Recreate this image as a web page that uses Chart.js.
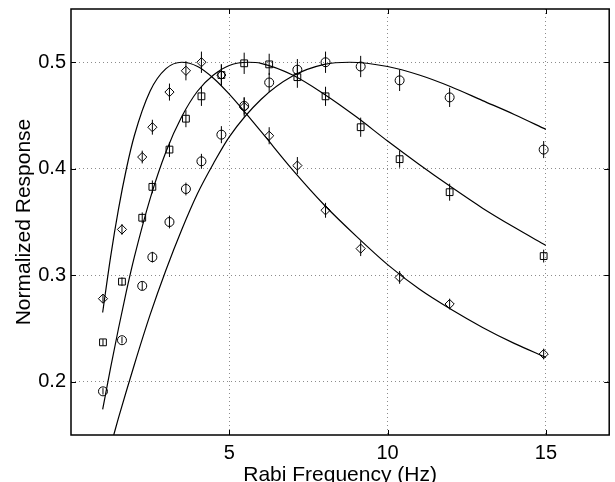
<!DOCTYPE html>
<html>
<head>
<meta charset="utf-8">
<script src="https://cdn.jsdelivr.net/npm/chart.js@4.4.1/dist/chart.umd.min.js"></script>
<style>
  html, body { margin: 0; padding: 0; background: #fff; overflow: hidden; }
  canvas { display: block; }
</style>
</head>
<body>
<canvas id="chart" width="615" height="482"></canvas>
<script>
/* ---------- DATA ---------- */
const freqs = [1.01, 1.61, 2.25, 2.57, 3.11, 3.63, 4.12, 4.75, 5.47, 6.26, 7.15, 8.04, 9.15, 10.38, 11.96, 14.93];

const diamondVals = [0.278, 0.343, 0.411, 0.439, 0.472, 0.492, 0.500, 0.488, 0.458, 0.431, 0.403, 0.361, 0.325, 0.298, 0.273, 0.226];
const diamondErr  = [0.004, 0.005, 0.006, 0.007, 0.008, 0.009, 0.010, 0.010, 0.009, 0.008, 0.008, 0.007, 0.007, 0.006, 0.005, 0.005];

const squareVals = [0.237, 0.294, 0.354, 0.383, 0.418, 0.447, 0.468, 0.488, 0.499, 0.498, 0.486, 0.468, 0.439, 0.409, 0.378, 0.318];
const squareErr  = [0.003, 0.004, 0.005, 0.006, 0.007, 0.008, 0.009, 0.010, 0.010, 0.010, 0.010, 0.009, 0.009, 0.008, 0.008, 0.006];

const circleVals = [0.191, 0.239, 0.290, 0.317, 0.350, 0.381, 0.407, 0.432, 0.459, 0.481, 0.493, 0.500, 0.496, 0.483, 0.467, 0.418];
const circleErr  = [0.003, 0.003, 0.004, 0.005, 0.006, 0.006, 0.007, 0.008, 0.008, 0.009, 0.010, 0.010, 0.010, 0.010, 0.009, 0.008];

// fitted curves
const fitAx = [1, 1.25, 1.5, 1.75, 2, 2.5, 3, 3.5, 4, 4.5, 5, 6, 7, 8, 9, 10, 11, 12, 13, 14, 15];
const fitAy = [0.265, 0.317, 0.362, 0.400, 0.431, 0.473, 0.494, 0.500, 0.496, 0.485, 0.470, 0.435, 0.399, 0.366, 0.337, 0.310, 0.287, 0.268, 0.251, 0.236, 0.223];

const fitBx = [1, 1.25, 1.5, 1.75, 2, 2.5, 3, 3.5, 4, 4.5, 5, 5.6, 6, 7, 8, 9, 10, 11, 12, 13, 14, 15];
const fitBy = [0.174, 0.213, 0.250, 0.285, 0.317, 0.372, 0.416, 0.449, 0.473, 0.488, 0.497, 0.500, 0.499, 0.488, 0.470, 0.449, 0.426, 0.404, 0.383, 0.363, 0.345, 0.328];

const fitCx = [1.35, 1.5, 2, 2.5, 3, 3.5, 4, 4.5, 5, 6, 7, 8, 8.8, 10, 11, 12, 13, 14, 15];
const fitCy = [0.150, 0.166, 0.216, 0.263, 0.305, 0.343, 0.377, 0.405, 0.430, 0.465, 0.487, 0.498, 0.500, 0.496, 0.488, 0.477, 0.464, 0.451, 0.437];

const xTicks = [5, 10, 15];
const yTicks = [0.2, 0.3, 0.4, 0.5];

/* ---------- HELPERS ---------- */
const pts = (xs, ys) => xs.map((x, i) => ({ x, y: ys[i] }));
const FONT = '"Liberation Sans", Arial, Helvetica, sans-serif';

function markers(vals, err, style, radius) {
  return {
    type: 'scatter',
    data: pts(freqs, vals),
    err,
    pointStyle: style,
    pointRadius: radius,
    pointHoverRadius: radius,
    pointBorderWidth: 1,
    borderColor: '#000',
    backgroundColor: 'rgba(0,0,0,0)'
  };
}

function fitLine(xs, ys) {
  return {
    type: 'line',
    data: pts(xs, ys),
    borderColor: '#000',
    borderWidth: 1.2,
    pointRadius: 0,
    cubicInterpolationMode: 'monotone',
    fill: false
  };
}

/* ---------- PLUGINS ---------- */
const errorBars = {
  id: 'errorBars',
  afterDatasetsDraw(chart) {
    const { ctx, scales: { x, y } } = chart;
    ctx.save();
    ctx.strokeStyle = '#000';
    ctx.lineWidth = 1;
    chart.data.datasets.forEach(ds => {
      if (!ds.err) return;
      ds.data.forEach((p, i) => {
        const px = x.getPixelForValue(p.x);
        ctx.beginPath();
        ctx.moveTo(px, y.getPixelForValue(p.y - ds.err[i]));
        ctx.lineTo(px, y.getPixelForValue(p.y + ds.err[i]));
        ctx.stroke();
      });
    });
    ctx.restore();
  }
};

const matlabBox = {
  id: 'matlabBox',
  afterDraw(chart) {
    const { ctx, chartArea: a, scales: { x, y } } = chart;
    const len = 5;
    ctx.save();
    ctx.strokeStyle = '#000';
    ctx.lineWidth = 1;
    ctx.beginPath();
    x.ticks.forEach(t => {
      const px = Math.round(x.getPixelForValue(t.value)) + 0.5;
      ctx.moveTo(px, a.bottom); ctx.lineTo(px, a.bottom - len);
      ctx.moveTo(px, a.top); ctx.lineTo(px, a.top + len);
    });
    y.ticks.forEach(t => {
      const py = Math.round(y.getPixelForValue(t.value)) + 0.5;
      ctx.moveTo(a.left, py); ctx.lineTo(a.left + len, py);
      ctx.moveTo(a.right, py); ctx.lineTo(a.right - len, py);
    });
    ctx.stroke();
    ctx.lineWidth = 1.5;
    ctx.strokeRect(a.left, a.top, a.width, a.height);
    ctx.restore();
  }
};

/* ---------- CHART ---------- */
new Chart(document.getElementById('chart'), {
  data: {
    datasets: [
      fitLine(fitAx, fitAy),
      fitLine(fitBx, fitBy),
      fitLine(fitCx, fitCy),
      markers(diamondVals, diamondErr, 'rectRot', 4.6),
      markers(squareVals, squareErr, 'rect', 4.8),
      markers(circleVals, circleErr, 'circle', 4.5)
    ]
  },
  options: {
    responsive: false,
    animation: false,
    events: [],
    layout: { padding: { top: 9, right: 3, left: 0, bottom: 0 } },
    plugins: {
      legend: { display: false },
      tooltip: { enabled: false }
    },
    scales: {
      x: {
        type: 'linear',
        min: 0,
        max: 17,
        afterBuildTicks: s => { s.ticks = xTicks.map(v => ({ value: v })); },
        afterFit: s => { s.height = 47; s.paddingLeft = 0; s.paddingRight = 0; },
        grid: { color: '#8c8c8c', lineWidth: 1, drawTicks: false },
        border: { display: false, dash: [1, 3] },
        ticks: {
          color: '#000',
          padding: 6,
          maxRotation: 0,
          font: { family: FONT, size: 20 },
          callback: v => String(v)
        },
        title: {
          display: true,
          text: 'Rabi Frequency (Hz)',
          color: '#000',
          font: { family: FONT, size: 21 },
          padding: { top: 0, bottom: -6 }
        }
      },
      y: {
        type: 'linear',
        min: 0.15,
        max: 0.55,
        afterBuildTicks: s => { s.ticks = yTicks.map(v => ({ value: v })); },
        afterFit: s => { s.width = 71; s.paddingTop = 0; s.paddingBottom = 0; },
        grid: { color: '#8c8c8c', lineWidth: 1, drawTicks: false },
        border: { display: false, dash: [1, 3] },
        ticks: {
          color: '#000',
          padding: 5,
          font: { family: FONT, size: 20 },
          callback: v => Number(v).toFixed(1)
        },
        title: {
          display: true,
          text: 'Normalized Response',
          color: '#000',
          font: { family: FONT, size: 21 },
          padding: { top: 12, bottom: 0 }
        }
      }
    }
  },
  plugins: [errorBars, matlabBox]
});
</script>
</body>
</html>
